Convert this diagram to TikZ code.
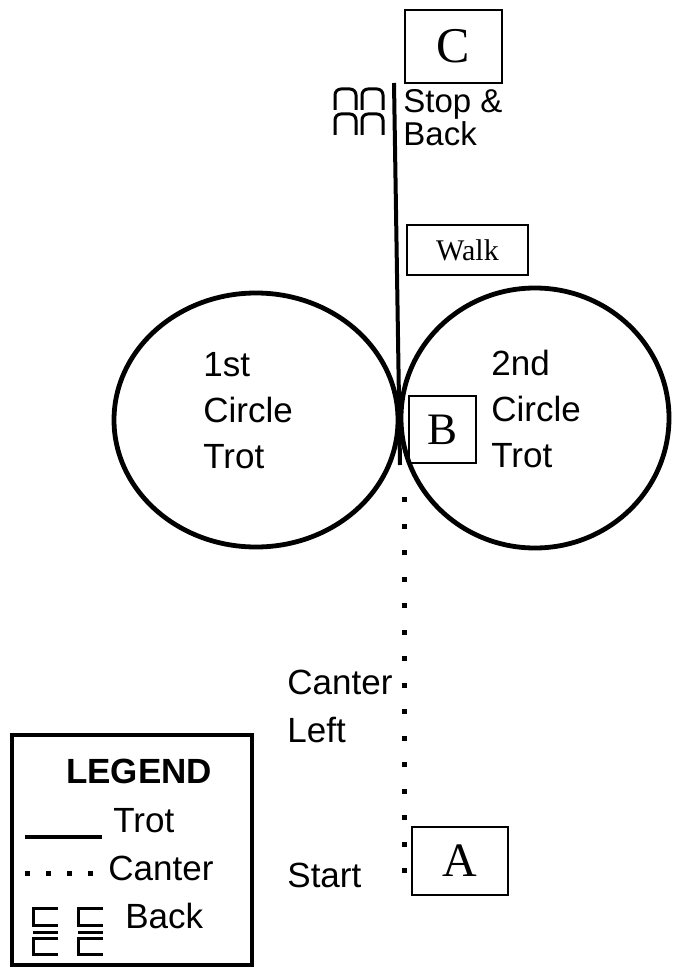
\documentclass[tikz,border=0pt]{standalone}
\usepackage{fontspec}
\setmainfont{Liberation Serif}
\setsansfont{Liberation Sans}
\usepackage{tikz}
\usetikzlibrary{positioning}

\begin{document}
\begin{tikzpicture}[x=0.5pt, y=-0.5pt]

    \tikzset{%
        letterbox/.style={draw, line width=1pt, inner sep=0pt},
        gaitlabel/.style={font=\sffamily\fontsize{17.5}{23}\selectfont, align=left, inner sep=0pt},
        trot/.style={line width=2pt},
        canter/.style={line width=2.5pt, dash pattern=on 2.5pt off 10.75pt},
        ring/.style={line width=2.4pt},
        pics/archrow/.style={%
                code={%
                        \foreach \i in {0, 1} {%
                                \draw [line width=1.5pt, rounded corners=3pt] ({\i*27}, 22) -- ({\i*27}, 1) -- ({\i*27+21}, 1) -- ({\i*27+21}, 22);
                            }
                    }
            },
        pics/backmark/.style={%
                code={%
                        \draw [line width=1.5pt] (25, 0) -- (0, 0) -- (0, 17) -- (25, 17);
                        \draw [line width=1.5pt] (0, 24) -- (25, 24);
                        \draw [line width=1.5pt] (25, 30) -- (0, 30) -- (0, 46) -- (25, 46);
                    }
            }
    }

    \useasboundingbox (0, 0) rectangle (675, 973);

    % arena letters
    \node [letterbox, minimum width=48.5pt, minimum height=36.5pt, font=\fontsize{25}{25}\selectfont] (C) at (453.5, 46.5) {C};
    \node [letterbox, minimum width=60.5pt, minimum height=25pt, font=\fontsize{15}{15}\selectfont] (walk) at (467.5, 250) {Walk};
    \node [letterbox, minimum width=33.5pt, minimum height=33.5pt, font=\fontsize{22.5}{22.5}\selectfont] (B) at (442.5, 429.5) {B};
    \node [letterbox, minimum width=48pt, minimum height=34pt, font=\fontsize{24}{24}\selectfont] (A) at (460, 861) {A};

    % circles
    \draw [ring] (256, 420) ellipse [x radius=71pt, y radius=63.5pt];
    \draw [ring] (535, 418) ellipse [x radius=67pt, y radius=65pt];

    % pattern lines
    \coordinate (trotTop) at (394, 83);
    \coordinate (trotEnd) at (400, 465);
    \coordinate (canterStart) at (404, 873);
    \coordinate (canterEnd) at (404, 490);
    \draw [trot] (trotTop) -- (trotEnd);
    \draw [canter] (canterStart) -- (canterEnd);

    \pic at (335, 88) {archrow};
    \pic at (335, 113) {archrow};

    % labels
    \node [gaitlabel, anchor=north west, font=\sffamily\fontsize{16.5}{12}\selectfont] (stop) at (403, 89) {Stop \&\\Back};
    \node [gaitlabel, anchor=north west] (first) at (203, 352) {1st\\Circle\\Trot};
    \node [gaitlabel, anchor=north west] (second) at (491, 350) {2nd\\Circle\\Trot};
    \node [gaitlabel, anchor=north west, font=\sffamily\fontsize{17.5}{24}\selectfont] (canterleft) at (287, 670) {Canter\\Left};
    \node [gaitlabel, anchor=north west] (start) at (287, 863) {Start};

    % legend
    \node [draw, line width=2pt, minimum width=120pt, minimum height=115pt, inner sep=0pt] (legend) at (132, 850) {};
    \node [font=\sffamily\bfseries\fontsize{17.5}{20}\selectfont, inner sep=0pt] (legendTitle) at (139, 771) {LEGEND};
    \coordinate (trotKeyA) at (25, 837);
    \coordinate (trotKeyB) at (102, 837);
    \draw [trot] (trotKeyA) -- (trotKeyB);
    \node [gaitlabel, anchor=base west] (trotKey) at (113, 832) {Trot};
    \coordinate (canterKeyA) at (25, 873);
    \coordinate (canterKeyB) at (95, 873);
    \draw [canter, dash pattern=on 2.5pt off 8pt] (canterKeyA) -- (canterKeyB);
    \node [gaitlabel, anchor=base west] (canterKey) at (108, 880) {Canter};
    \pic at (33, 908) {backmark};
    \pic at (78, 908) {backmark};
    \node [gaitlabel, anchor=base west] (backKey) at (125, 928) {Back};

\end{tikzpicture}
\end{document}
